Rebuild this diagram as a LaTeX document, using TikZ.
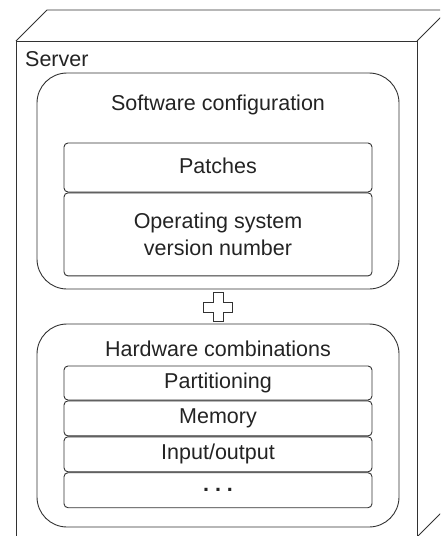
\documentclass[tikz,border=0pt]{standalone}
\usepackage{fontspec}
\setmainfont{Liberation Sans}
\usetikzlibrary{positioning}
\definecolor{edgegray}{RGB}{50,50,50}
\definecolor{inkgray}{RGB}{35,35,35}
\tikzset{
  every node/.style={font=\fontsize{21.5}{27}\selectfont, text=inkgray},
  frame/.style={draw=edgegray, line width=0.9pt},
  bigbox/.style={frame, rounded corners=30pt, minimum width=362pt, inner sep=0pt},
  cell/.style={frame, rounded corners=4pt, minimum width=308pt, inner sep=0pt},
  oneline/.style={text height=15.5pt, text depth=4.5pt}
}

\begin{document}
\begin{tikzpicture}[x=1pt,y=-1pt]

    \useasboundingbox (0,0) rectangle (440,536);
    \clip (0,0) rectangle (440,536);

    % 机箱正面与透视边

    \draw[frame] (16,545) -- (16,41) -- (417,41) -- (417,545);
    \draw[frame] (16,41) -- (47,10) -- (460,10);
    \draw[frame] (417,41) -- (448,10);
    \draw[frame] (417,537) -- (448,506);

    \node[anchor=base west, inner sep=0pt] (server) at (25,66) {Server};

    % 软件配置

    \node[bigbox, minimum height=216pt] (sw) at (218,181) {};
    \node[anchor=base, inner sep=0pt] (swtitle) at (218,110) {Software configuration};
    \node[cell, oneline, minimum height=49pt] (patch) at (218,167.5) {Patches};
    \node[cell, minimum height=83pt, below=0pt of patch, align=center] (os)
      {Operating system\\version number};

    % 加号

    \coordinate (plus) at (218,307);
    \draw[frame, shift={(plus)}]
      (-5,-14.5) -- (5,-14.5) -- (5,-5) -- (14.5,-5) -- (14.5,5) -- (5,5)
      -- (5,14.5) -- (-5,14.5) -- (-5,5) -- (-14.5,5) -- (-14.5,-5) -- (-5,-5) -- cycle;

    % 硬件组合

    \node[bigbox, minimum height=203pt] (hw) at (218,425.5) {};
    \node[anchor=base, inner sep=0pt] (hwtitle) at (218,356) {Hardware combinations};
    \node[cell, oneline, minimum height=34pt] (part) at (218,383) {Partitioning};
    \node[cell, oneline, minimum height=35pt, below=0pt of part] (mem) {Memory};
    \node[cell, oneline, minimum height=35pt, below=0pt of mem] (io) {Input/output};
    \node[cell, minimum height=35pt, below=0pt of io, text height=3pt, text depth=0pt] (more)
      {\textbf{.\ .\ .}};

  \end{tikzpicture}
\end{document}
